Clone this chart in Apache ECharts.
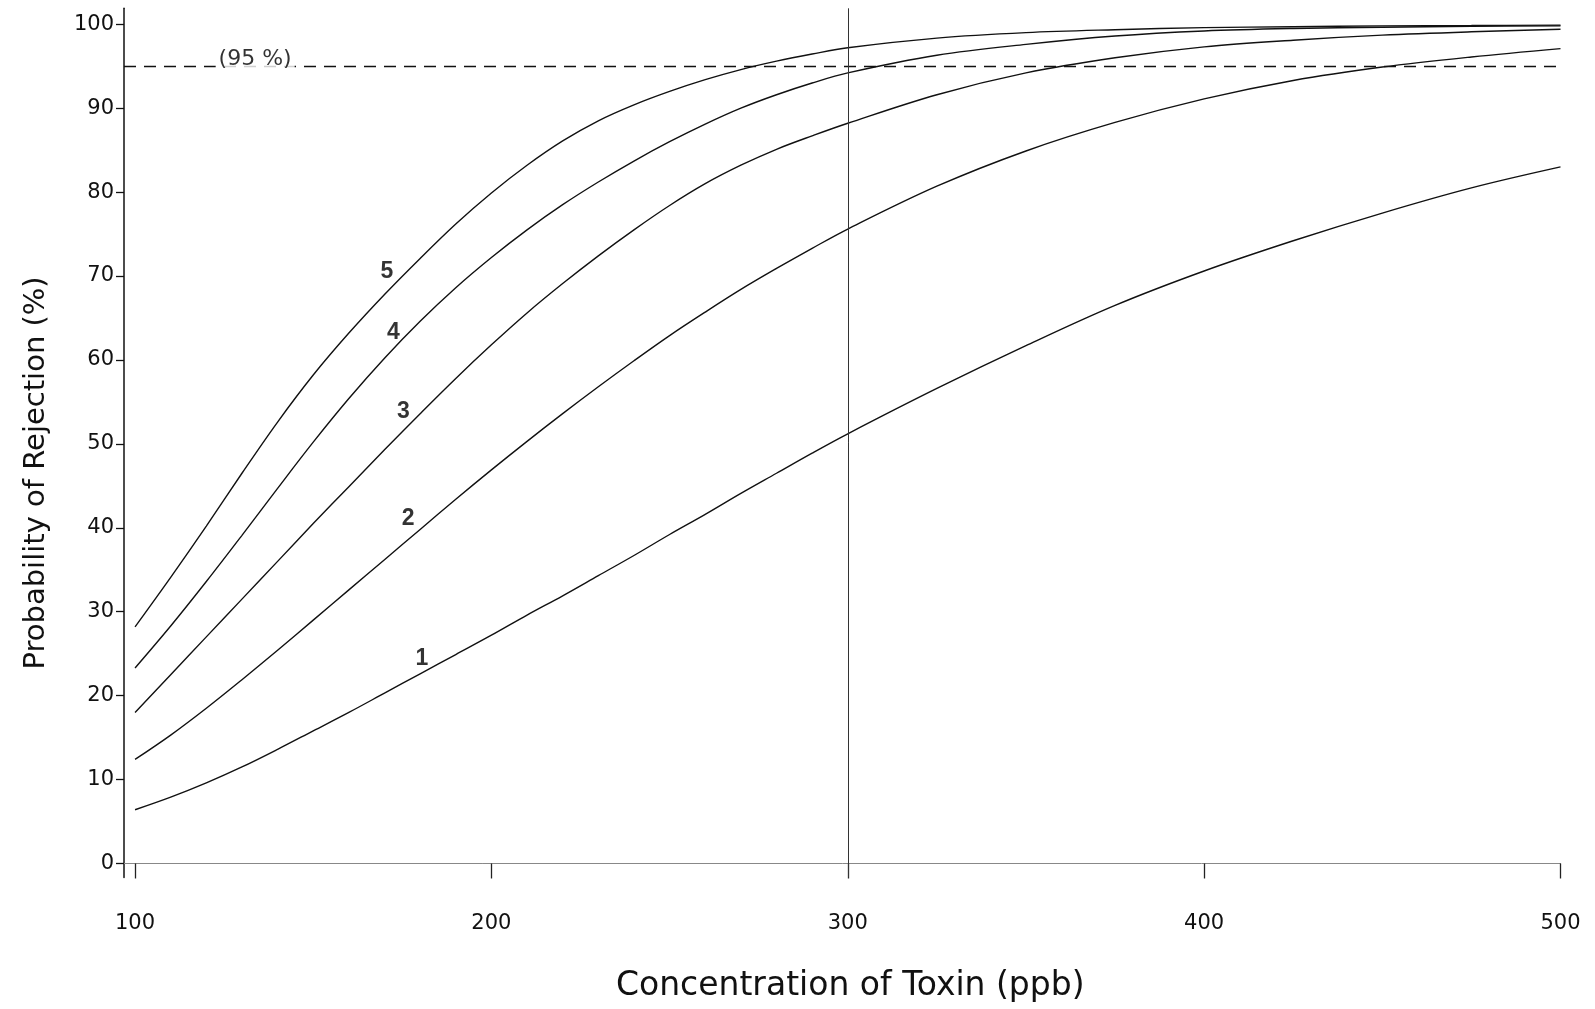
<!DOCTYPE html>
<html>
<head>
<meta charset="utf-8">
<script src="https://cdn.jsdelivr.net/npm/echarts@6.0.0/dist/echarts.min.js"></script>
<style>
html,body{margin:0;padding:0;background:#fff;}
#chart{width:1595px;height:1009px;}
</style>
</head>
<body>
<div id="chart"></div>
<script>
// Concentration of toxin (ppb)
const concentration = [100,110,120,130,140,150,160,170,180,190,200,210,220,230,240,250,260,270,280,290,300,325,350,375,400,425,450,475,500];
// Probability of rejection (%) for each curve
const curve1 = [6.4,7.9,9.6,11.5,13.6,15.8,18.0,20.3,22.6,24.9,27.2,29.6,31.9,34.3,36.7,39.2,41.6,44.1,46.5,48.9,51.2,56.6,61.7,66.5,70.6,74.2,77.5,80.5,83.0];
const curve2 = [12.4,15.3,18.5,21.9,25.4,29.0,32.6,36.2,39.8,43.4,46.9,50.3,53.6,56.8,59.9,62.9,65.7,68.4,70.9,73.3,75.6,80.7,84.9,88.3,91.1,93.3,94.9,96.1,97.1];
const curve3 = [18.0,22.5,27.0,31.5,36.0,40.5,44.9,49.3,53.6,57.8,61.8,65.6,69.1,72.4,75.5,78.4,81.0,83.2,85.1,86.7,88.2,91.6,94.2,96.0,97.3,98.1,98.7,99.1,99.4];
const curve4 = [23.3,28.3,33.6,39.1,44.7,50.2,55.4,60.2,64.6,68.6,72.2,75.5,78.5,81.2,83.7,86.0,88.1,90.0,91.6,93.0,94.2,96.3,97.6,98.6,99.2,99.5,99.65,99.75,99.8];
const curve5 = [28.2,34.1,40.2,46.5,52.6,58.2,63.2,67.8,72.1,76.2,79.9,83.2,86.1,88.5,90.4,92.0,93.4,94.6,95.6,96.45,97.2,98.35,99.0,99.35,99.6,99.7,99.8,99.85,99.9];
const curves = [curve1, curve2, curve3, curve4, curve5];

// Curve number labels: [x, y, text]
const curveLabels = [[180.5,24.4,'1'],[176.6,41.1,'2'],[175.3,53.8,'3'],[172.5,63.2,'4'],[170.7,70.5,'5']];
const referenceLevel = 95;
const referenceLabel = [133.7, 95.8, '(95 %)'];
const markedConcentration = 300;

const xTicks = [100,200,300,400,500];
const yTicks = [0,10,20,30,40,50,60,70,80,90,100];

const lineSeries = curves.map((c, i) => ({
  type: 'line',
  name: 'Curve ' + (i + 1),
  data: concentration.map((x, j) => [x, c[j]]),
  showSymbol: false,
  smooth: 0.35,
  lineStyle: {color: '#111', width: 1.4},
  silent: true,
  z: 3
}));

lineSeries[0].markLine = {
  silent: true,
  symbol: 'none',
  animation: false,
  label: {show: false},
  data: [
    {yAxis: referenceLevel, lineStyle: {color: '#111', width: 1.4, type: [12, 8]}},
    {xAxis: markedConcentration, lineStyle: {color: '#333', width: 1, type: 'solid'}}
  ]
};

const option = {
  animation: false,
  backgroundColor: '#fff',
  grid: {left: 124, right: 34.5, top: 8.3, bottom: 131.5, containLabel: false},
  xAxis: {
    type: 'value',
    min: 96.9,
    max: 500,
    name: 'Concentration of Toxin (ppb)',
    nameLocation: 'middle',
    nameGap: 92,
    nameTextStyle: {fontFamily: 'DejaVu Sans', fontSize: 33, color: '#111', padding: [0, 0, 0, 16]},
    axisLine: {show: true, lineStyle: {color: '#888', width: 1}},
    axisTick: {show: true, customValues: xTicks, length: 15, lineStyle: {color: '#222', width: 1.3}},
    axisLabel: {customValues: xTicks, fontFamily: 'DejaVu Sans', fontSize: 21, color: '#111', margin: 36},
    splitLine: {show: false}
  },
  yAxis: {
    type: 'value',
    min: -1.67,
    max: 101.9,
    name: 'Probability of Rejection (%)',
    nameLocation: 'middle',
    nameGap: 73,
    nameTextStyle: {fontFamily: 'DejaVu Sans', fontSize: 29, color: '#111', padding: [0, 60, 0, 0]},
    axisLine: {show: true, lineStyle: {color: '#111', width: 1.5}},
    axisTick: {show: true, customValues: yTicks, length: 8, lineStyle: {color: '#111', width: 1.3}},
    axisLabel: {customValues: yTicks, fontFamily: 'DejaVu Sans', fontSize: 21, color: '#111', margin: 10},
    splitLine: {show: false}
  },
  series: lineSeries.concat([
    {
      type: 'scatter',
      silent: true,
      symbolSize: 0,
      z: 5,
      data: curveLabels.map(d => ({value: [d[0], d[1]], name: d[2]})),
      label: {show: true, position: 'inside', formatter: '{b}', fontFamily: 'Liberation Sans', fontWeight: 'bold', fontSize: 23, color: '#000'}
    },
    {
      type: 'scatter',
      silent: true,
      symbolSize: 0,
      z: 6,
      data: [{value: [referenceLabel[0], referenceLabel[1]], name: referenceLabel[2]}],
      label: {show: true, position: 'inside', formatter: '{b}', fontFamily: 'DejaVu Sans', fontSize: 22, color: '#000', backgroundColor: '#fff', padding: [0, 3]}
    }
  ])
};

const chart = echarts.init(document.getElementById('chart'), null, {renderer: 'canvas'});
chart.setOption(option);
</script>
</body>
</html>
